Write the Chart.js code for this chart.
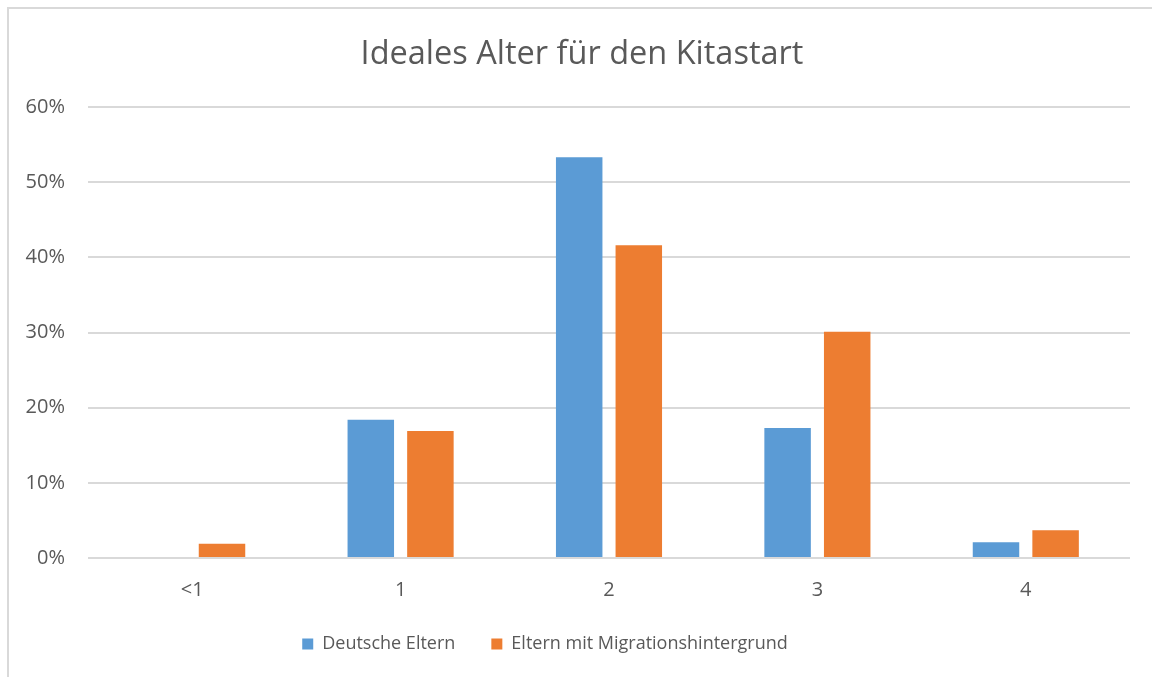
<!DOCTYPE html>
<html>
<head>
<meta charset="utf-8">
<script src="https://cdn.jsdelivr.net/npm/chart.js@4.4.0/dist/chart.umd.min.js"></script>
<style>
  html, body { margin: 0; padding: 0; background: #fff; }
  #frame {
    position: absolute; left: 7px; top: 7px; width: 1160px; height: 690px;
    border: 2px solid #d9d9d9; box-sizing: border-box;
  }
  #wrap { position: absolute; left: 0; top: 0; width: 1152px; height: 677px; }
</style>
</head>
<body>
<div id="frame"></div>
<div id="wrap"><canvas id="chart" width="1152" height="677"></canvas></div>
<script>
// data
var categories = ["<1", "1", "2", "3", "4"];
var deutscheEltern = [0, 18.4, 53.3, 17.3, 2.1];
var migrationEltern = [1.9, 16.9, 41.6, 30.1, 3.7];
var yTicks = [0, 10, 20, 30, 40, 50, 60];

var textColor = "#595959";
var fontFamily = "'Open Sans', 'Noto Sans', sans-serif";

// title and legend in the original are not centred on the plot
var nudgeBoxes = {
  id: "nudgeBoxes",
  afterLayout: function(chart) {
    chart.legend.left -= 20;
    chart.legend.right -= 20;
    chart.legend.top -= 9;
    chart.legend.bottom -= 9;
    chart.titleBlock.left += 17;
    chart.titleBlock.right += 17;
  }
};

var ctx = document.getElementById("chart").getContext("2d");

var chart = new Chart(ctx, {
  type: "bar",
  data: {
    labels: categories,
    datasets: [
      {
        label: "Deutsche Eltern",
        data: deutscheEltern,
        backgroundColor: "#5b9bd5",
        borderWidth: 0
      },
      {
        label: "Eltern mit Migrationshintergrund",
        data: migrationEltern,
        backgroundColor: "#ed7d31",
        borderWidth: 0
      }
    ]
  },
  plugins: [nudgeBoxes],
  options: {
    responsive: false,
    animation: false,
    devicePixelRatio: 1,
    categoryPercentage: 0.572,
    barPercentage: 0.78,
    layout: {
      padding: { left: 0, right: 22, top: 25, bottom: 5 }
    },
    plugins: {
      title: {
        display: true,
        text: "Ideales Alter für den Kitastart",
        color: textColor,
        font: { family: fontFamily, size: 32.5, weight: "normal" },
        padding: { top: 10, bottom: 33 }
      },
      legend: {
        position: "bottom",
        labels: {
          color: textColor,
          font: { family: fontFamily, size: 18 },
          boxWidth: 11,
          boxHeight: 11,
          padding: 36
        }
      },
      tooltip: { enabled: false }
    },
    scales: {
      x: {
        grid: { display: false },
        border: { display: false },
        ticks: {
          color: textColor,
          font: { family: fontFamily, size: 20 },
          padding: 12
        },
        afterFit: function(scale) { scale.height = 50; }
      },
      y: {
        min: 0,
        max: 60,
        afterBuildTicks: function(scale) {
          scale.ticks = yTicks.map(function(v) { return { value: v }; });
        },
        grid: { color: "#d9d9d9", lineWidth: 2, drawTicks: false },
        border: { display: false },
        ticks: {
          color: textColor,
          font: { family: fontFamily, size: 20 },
          padding: 23,
          callback: function(v) { return v + "%"; }
        },
        afterFit: function(scale) { scale.width = 88; }
      }
    }
  }
});
</script>
</body>
</html>
